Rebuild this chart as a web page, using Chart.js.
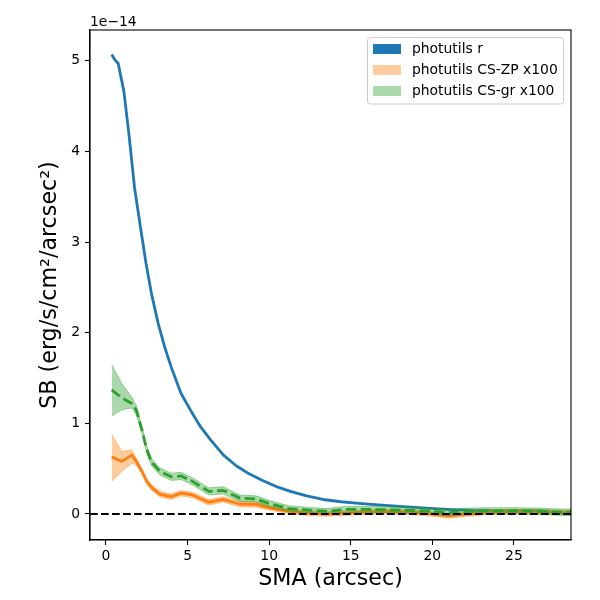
<!DOCTYPE html>
<html>
<head>
<meta charset="utf-8">
<script src="https://cdn.jsdelivr.net/npm/chart.js@4.4.1/dist/chart.umd.min.js"></script>
<style>
  body { margin: 0; background: #fff; }
  canvas { display: block; }
</style>
</head>
<body>
<canvas id="sbChart" width="600" height="600"></canvas>
<script>
// values are in units of 1e-14 erg/s/cm2/arcsec2 (CS profiles already x100)
const yExponent = -14;
const xLimits = [-0.98, 28.5];
const yLimits = [-0.287, 5.34];
const xTicks = [0, 5, 10, 15, 20, 25];
const yTicks = [0, 1, 2, 3, 4, 5];

const seriesLabels = ['photutils r', 'photutils CS-ZP x100', 'photutils CS-gr x100'];

// r-band profile
const smaR = [0.35, 0.55, 0.75, 1.1, 1.4, 1.75, 2.1, 2.45, 2.8, 3.2, 3.6, 4.0, 4.6, 5.2, 5.8, 6.4, 7.2, 8.0, 8.8, 9.6,
              10.4, 11.3, 12.3, 13.3, 14.4, 15.5, 16.7, 18.0, 19.4, 20.9, 22.4, 24.0, 25.6, 27.2];
const sbR = [5.07, 5.01, 4.97, 4.66, 4.2, 3.6, 3.18, 2.77, 2.42, 2.1, 1.84, 1.62, 1.33, 1.14, 0.96, 0.82, 0.65, 0.53, 0.44, 0.37,
             0.305, 0.25, 0.20, 0.16, 0.135, 0.116, 0.10, 0.085, 0.068, 0.052, 0.04, 0.034, 0.033, 0.03];

// colour-stretched profiles
const smaCS = [0.35, 0.97, 1.58, 1.85, 2.2, 2.5, 2.8, 3.3, 4.0, 4.6, 5.3, 6.3, 7.2, 8.2, 9.2, 10.1, 11.2, 12.3, 13.5, 14.7,
               15.9, 17.2, 18.6, 20.0, 21.0, 22.2, 23.6, 25.0, 26.5, 28.0, 29.0];
const sbZP = [0.63, 0.58, 0.65, 0.58, 0.47, 0.36, 0.29, 0.22, 0.19, 0.23, 0.21, 0.13, 0.16, 0.11, 0.105, 0.065, 0.03, 0.01, 0.0, 0.01,
              0.02, 0.025, 0.02, 0.0, -0.022, 0.0, 0.02, 0.025, 0.02, 0.015, 0.015];
const zpHi = [0.88, 0.69, 0.71, 0.62, 0.50, 0.39, 0.32, 0.25, 0.22, 0.26, 0.24, 0.16, 0.19, 0.14, 0.135, 0.09, 0.055, 0.035, 0.025, 0.035,
              0.045, 0.05, 0.045, 0.025, 0.003, 0.025, 0.045, 0.05, 0.045, 0.04, 0.04];
const zpLo = [0.36, 0.47, 0.56, 0.54, 0.44, 0.33, 0.26, 0.19, 0.16, 0.20, 0.18, 0.10, 0.13, 0.08, 0.075, 0.04, 0.005, -0.015, -0.025, -0.015,
              -0.005, 0.0, -0.005, -0.025, -0.047, -0.025, -0.005, 0.0, -0.005, -0.01, -0.01];
const sbGr = [1.37, 1.28, 1.22, 1.15, 0.93, 0.71, 0.57, 0.47, 0.41, 0.42, 0.36, 0.25, 0.26, 0.175, 0.165, 0.11, 0.06, 0.044, 0.03, 0.05,
              0.05, 0.048, 0.04, 0.03, 0.015, 0.03, 0.035, 0.035, 0.03, 0.02, 0.02];
const grHi = [1.65, 1.44, 1.29, 1.20, 0.97, 0.75, 0.61, 0.51, 0.45, 0.46, 0.40, 0.29, 0.30, 0.21, 0.20, 0.145, 0.09, 0.075, 0.06, 0.085,
              0.085, 0.083, 0.075, 0.065, 0.05, 0.065, 0.07, 0.07, 0.065, 0.055, 0.055];
const grLo = [1.08, 1.15, 1.17, 1.10, 0.89, 0.67, 0.53, 0.43, 0.37, 0.38, 0.32, 0.21, 0.22, 0.14, 0.13, 0.075, 0.03, 0.014, 0.0, 0.015,
              0.015, 0.013, 0.005, -0.005, -0.02, -0.005, 0.0, 0.0, -0.005, -0.015, -0.015];

const BLUE = '#1f77b4', ORANGE = '#ff7f0e', GREEN = '#2ca02c';
const FONT = 'DejaVu Sans';

function pts(xs, ys) {
    return xs.map((x, i) => ({ x: x, y: ys[i] }));
}

function bandPair(xs, hi, lo, color, order) {
    return [{
        data: pts(xs, hi), borderColor: color, borderWidth: 1, backgroundColor: color,
        pointRadius: 0, fill: '+1', order: order
    }, {
        data: pts(xs, lo), borderColor: color, borderWidth: 1,
        pointRadius: 0, fill: false, order: order
    }];
}

const datasets = [
    { data: pts(xLimits, [0, 0]), borderColor: '#000', borderWidth: 2, borderDash: [7.7, 3.3], pointRadius: 0, order: 0 },
    { data: pts(smaCS, sbGr), borderColor: GREEN, borderWidth: 2.8, borderDash: [10.3, 4.4], pointRadius: 0, order: 1 },
    ...bandPair(smaCS, grHi, grLo, 'rgba(44,160,44,0.4)', 2),
    { data: pts(smaCS, sbZP), borderColor: ORANGE, borderWidth: 2.8, pointRadius: 0, order: 3 },
    ...bandPair(smaCS, zpHi, zpLo, 'rgba(255,127,14,0.4)', 4),
    { data: pts(smaR, sbR), borderColor: BLUE, borderWidth: 2.8, pointRadius: 0, order: 5 }
];

const legendSwatches = [BLUE, 'rgba(255,127,14,0.4)', 'rgba(44,160,44,0.4)'];

// frame, offset text and legend in matplotlib style
const extras = {
    id: 'extras',
    afterDraw(chart) {
        const { ctx, chartArea: a } = chart;
        ctx.save();
        ctx.strokeStyle = '#000';
        ctx.lineWidth = 1.1;
        ctx.strokeRect(a.left, a.top, a.right - a.left, a.bottom - a.top);

        ctx.fillStyle = '#000';
        ctx.font = '13.9px "' + FONT + '"';
        ctx.textAlign = 'left';
        ctx.textBaseline = 'alphabetic';
        ctx.fillText('1e\u2212' + Math.abs(yExponent), a.left, a.top - 4);

        const bx = 367.5, by = 37.5, bw = 196, bh = 66.5;
        ctx.beginPath();
        ctx.roundRect(bx, by, bw, bh, 3);
        ctx.fillStyle = 'rgba(255,255,255,0.8)';
        ctx.fill();
        ctx.strokeStyle = '#cccccc';
        ctx.lineWidth = 1;
        ctx.stroke();

        ctx.textBaseline = 'middle';
        seriesLabels.forEach((label, i) => {
            const cy = by + 11.5 + i * 21;
            ctx.fillStyle = legendSwatches[i];
            ctx.fillRect(bx + 5.5, cy - 5, 28, 10);
            ctx.fillStyle = '#000';
            ctx.fillText(label, bx + 44.5, cy);
        });
        ctx.restore();
    }
};

Chart.defaults.color = '#000';
Chart.defaults.font.family = FONT;

new Chart(document.getElementById('sbChart').getContext('2d'), {
    type: 'line',
    data: { datasets: datasets },
    plugins: [extras],
    options: {
        responsive: false,
        animation: false,
        layout: { padding: { top: 30, right: 29, left: 0, bottom: 0 } },
        elements: { line: { tension: 0, borderJoinStyle: 'round' } },
        plugins: { legend: { display: false }, tooltip: { enabled: false } },
        scales: {
            x: {
                type: 'linear',
                min: xLimits[0],
                max: xLimits[1],
                afterBuildTicks: s => { s.ticks = xTicks.map(v => ({ value: v })); },
                afterFit: s => { s.height = 60; },
                grid: { drawOnChartArea: false, tickLength: 5, tickColor: '#000', tickWidth: 1.1 },
                border: { color: '#000', width: 1.1 },
                ticks: { font: { size: 13.9 }, padding: 3, maxRotation: 0 },
                title: { display: true, text: 'SMA (arcsec)', font: { size: 22.2 }, padding: { top: 0, bottom: 7 } }
            },
            y: {
                type: 'linear',
                min: yLimits[0],
                max: yLimits[1],
                afterBuildTicks: s => { s.ticks = yTicks.map(v => ({ value: v })); },
                afterFit: s => { s.width = 90; },
                grid: { drawOnChartArea: false, tickLength: 5, tickColor: '#000', tickWidth: 1.1 },
                border: { color: '#000', width: 1.1 },
                ticks: { font: { size: 13.9 }, padding: 5, callback: v => String(v) },
                title: { display: true, text: 'SB (erg/s/cm\u00b2/arcsec\u00b2)', font: { size: 22.2 }, padding: { top: 37, bottom: 0 } }
            }
        }
    }
});
</script>
</body>
</html>
